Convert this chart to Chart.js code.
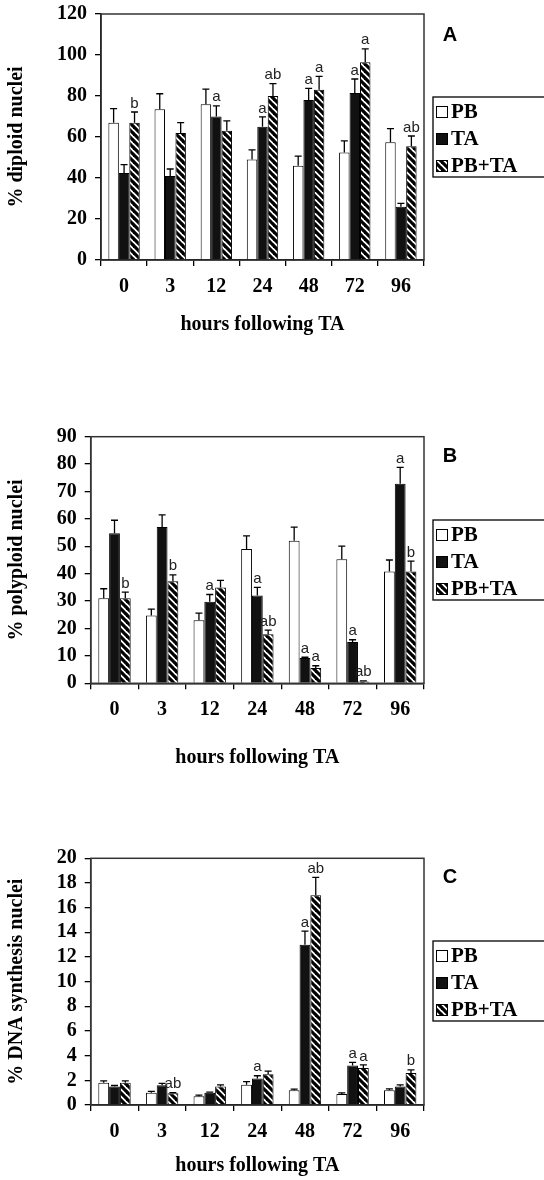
<!DOCTYPE html>
<html>
<head>
<meta charset="utf-8">
<script src="https://cdn.jsdelivr.net/npm/chart.js@4.4.1/dist/chart.umd.min.js"></script>
<style>
  body { margin: 0; background: #fff; }
  #wrap { position: relative; width: 544px; height: 1180px; overflow: hidden; }
  canvas { position: absolute; left: 0; }
</style>
</head>
<body>
<div id="wrap">
  <canvas id="chartA" width="544" height="390" style="top:0px"></canvas>
  <canvas id="chartB" width="544" height="400" style="top:390px"></canvas>
  <canvas id="chartC" width="544" height="390" style="top:790px"></canvas>
</div>
<script>
// categories and series
var hours = ["0", "3", "12", "24", "48", "72", "96"];
var seriesNames = ["PB", "TA", "PB+TA"];

// panel A: % diploid nuclei
var pbA = [67, 73.5, 76, 49, 46, 52.5, 57.5];
var pbErrA = [6.8, 7.6, 7.4, 4.7, 4.7, 5.6, 6.6];
var taA = [42.5, 41, 70, 65, 78, 81.5, 26];
var taErrA = [4, 3.4, 5.2, 4.8, 5.7, 6.8, 1.6];
var ptA = [67, 62, 63, 80, 83, 96.5, 55.5];
var ptErrA = [5.2, 5, 4.9, 6, 6.6, 6.5, 5];
var taMarksA = ["", "", "a", "a", "a", "a", ""];
var ptMarksA = ["b", "", "", "ab", "a", "a", "ab"];

// panel B: % polyploid nuclei
var pbB = [31, 24.7, 23, 49, 52, 45.3, 40.8];
var pbErrB = [3.5, 2.4, 2.6, 4.8, 5, 4.8, 4.2];
var taB = [54.8, 57, 29.8, 32, 9.2, 15.1, 72.8];
var taErrB = [4.7, 4.5, 2.6, 3, 0.3, 0.8, 6];
var ptB = [31, 37.2, 35, 17.9, 5.6, 0.7, 40.8];
var ptErrB = [2.3, 2.4, 2.6, 1.5, 0.8, 0.2, 3.8];
var taMarksB = ["", "", "a", "a", "a", "a", "a"];
var ptMarksB = ["b", "b", "", "ab", "a", "ab", "b"];

// panel C: % DNA synthesis nuclei
var pbC = [1.8, 1.0, 0.7, 1.65, 1.2, 0.9, 1.2];
var pbErrC = [0.15, 0.1, 0.1, 0.25, 0.08, 0.08, 0.1];
var taC = [1.5, 1.6, 1.0, 2.15, 13.0, 3.2, 1.5];
var taErrC = [0.08, 0.15, 0.05, 0.22, 1.1, 0.25, 0.13];
var ptC = [1.8, 0.95, 1.5, 2.5, 17.0, 3.0, 2.6];
var ptErrC = [0.15, 0.06, 0.13, 0.25, 1.45, 0.25, 0.25];
var taMarksC = ["", "", "", "a", "a", "a", ""];
var ptMarksC = ["", "ab", "", "", "ab", "a", "b"];

var SERIF = "'Liberation Serif', 'Times New Roman', serif";
var SANS = "'Liberation Sans', Arial, sans-serif";

function makeStripes(dark) {
    var n = 7;
    var c = document.createElement("canvas");
    c.width = n; c.height = n;
    var g = c.getContext("2d");
    g.fillStyle = "#fff";
    g.fillRect(0, 0, n, n);
    g.strokeStyle = dark;
    g.lineWidth = 3.2;
    for (var k = -1; k <= 1; k++) {
        g.beginPath();
        g.moveTo(k * n - 1, -1);
        g.lineTo(k * n + n + 1, n + 1);
        g.stroke();
    }
    return g.createPattern(c, "repeat");
}
var stripes = makeStripes("#000");

// error bars with cap, plus significance letters
var errorBars = {
    id: "errorBars",
    afterDatasetsDraw: function(chart) {
        var ctx = chart.ctx;
        var yScale = chart.scales.y;
        ctx.save();
        chart.data.datasets.forEach(function(ds, i) {
            var meta = chart.getDatasetMeta(i);
            meta.data.forEach(function(bar, j) {
                var top = yScale.getPixelForValue(ds.data[j] + ds.errors[j]);
                ctx.strokeStyle = "#000";
                ctx.lineWidth = 1.3;
                ctx.beginPath();
                ctx.moveTo(bar.x, bar.y);
                ctx.lineTo(bar.x, top);
                ctx.moveTo(bar.x - 3.5, top);
                ctx.lineTo(bar.x + 3.5, top);
                ctx.stroke();
                var m = ds.marks[j];
                if (m) {
                    ctx.fillStyle = "#222";
                    ctx.font = "15px " + SANS;
                    ctx.textAlign = "center";
                    ctx.textBaseline = "bottom";
                    ctx.fillText(m, bar.x, top - 1);
                }
            });
        });
        ctx.restore();
    }
};

// frame around plot, panel letter and boxed legend
var decor = {
    id: "decor",
    afterDraw: function(chart) {
        var ctx = chart.ctx;
        var a = chart.chartArea;
        var o = chart.options.plugins.decor;
        ctx.save();
        ctx.strokeStyle = "#333";
        ctx.lineWidth = 1.5;
        ctx.strokeRect(a.left, a.top, a.right - a.left, a.bottom - a.top);

        ctx.fillStyle = "#000";
        ctx.font = "bold 20px " + SANS;
        ctx.textAlign = "center";
        ctx.textBaseline = "middle";
        ctx.fillText(o.letter, 450, o.letterY);

        var bx = 433, by = o.legendY;
        ctx.lineWidth = 1.3;
        ctx.strokeStyle = "#000";
        ctx.strokeRect(bx, by, 120, 80);
        ctx.font = "bold 21px " + SERIF;
        ctx.textAlign = "left";
        chart.data.datasets.forEach(function(ds, i) {
            var cy = by + 15 + i * 27;
            ctx.fillStyle = ds.backgroundColor;
            ctx.fillRect(436, cy - 6, 12, 12);
            ctx.strokeStyle = "#000";
            ctx.lineWidth = 1;
            ctx.strokeRect(436.5, cy - 5.5, 11, 11);
            ctx.fillStyle = "#000";
            ctx.fillText(ds.label, 451, cy + 1);
        });
        ctx.restore();
    }
};

function makePanel(id, p) {
    var canvas = document.getElementById(id);
    var H = canvas.height;
    var tickFont = { family: SERIF, size: 20, weight: "bold" };
    var titleFont = { family: SERIF, size: 20, weight: "bold" };
    return new Chart(canvas, {
        type: "bar",
        data: {
            labels: hours,
            datasets: [
                { label: seriesNames[0], data: p.pb, errors: p.pbErr, marks: ["", "", "", "", "", "", ""],
                  backgroundColor: "#fff", borderColor: "#000", borderWidth: 1 },
                { label: seriesNames[1], data: p.ta, errors: p.taErr, marks: p.taMarks,
                  backgroundColor: "#111", borderColor: "#000", borderWidth: 1 },
                { label: seriesNames[2], data: p.pt, errors: p.ptErr, marks: p.ptMarks,
                  backgroundColor: stripes, borderColor: "#000", borderWidth: 1 }
            ]
        },
        options: {
            responsive: false,
            animation: false,
            devicePixelRatio: 1,
            datasets: { bar: { categoryPercentage: 0.68, barPercentage: 1.0 } },
            layout: { padding: { top: p.top, right: 544 - 424, left: 0, bottom: 0 } },
            plugins: {
                legend: { display: false },
                tooltip: { enabled: false },
                decor: { letter: p.letter, letterY: p.letterY, legendY: p.legendY }
            },
            scales: {
                x: {
                    grid: { drawOnChartArea: false, drawTicks: true, tickLength: 6, color: "#000", lineWidth: 1.3, offset: true },
                    border: { color: "#000", width: 1.5 },
                    ticks: { font: tickFont, color: "#000", padding: 9, maxRotation: 0 },
                    title: { display: true, text: "hours following TA", font: titleFont, color: "#000",
                             padding: { top: 0, bottom: H - p.titleY - 12 } },
                    afterFit: function(s) { s.height = H - p.bottom; s.paddingLeft = 0; s.paddingRight = 0; }
                },
                y: {
                    min: 0, max: p.max,
                    grid: { drawOnChartArea: false, drawTicks: true, tickLength: 6, color: "#000", lineWidth: 1.3 },
                    border: { color: "#000", width: 1.5 },
                    ticks: { stepSize: p.step, autoSkip: false, font: tickFont, color: "#000", padding: 8 },
                    title: { display: true, text: p.yTitle, font: titleFont, color: "#000",
                             padding: { top: 5, bottom: 0 } },
                    afterFit: function(s) { s.width = p.left; s.paddingTop = 0; s.paddingBottom = 0; }
                }
            }
        },
        plugins: [errorBars, decor]
    });
}

makePanel("chartA", {
    pb: pbA, pbErr: pbErrA, ta: taA, taErr: taErrA, pt: ptA, ptErr: ptErrA,
    taMarks: taMarksA, ptMarks: ptMarksA,
    max: 120, step: 20, yTitle: "% diploid nuclei",
    top: 14, bottom: 260, left: 101, titleY: 325,
    letter: "A", letterY: 35, legendY: 97
});
makePanel("chartB", {
    pb: pbB, pbErr: pbErrB, ta: taB, taErr: taErrB, pt: ptB, ptErr: ptErrB,
    taMarks: taMarksB, ptMarks: ptMarksB,
    max: 90, step: 10, yTitle: "% polyploid nuclei",
    top: 46.7, bottom: 293.3, left: 90.7, titleY: 368,
    letter: "B", letterY: 66, legendY: 130
});
makePanel("chartC", {
    pb: pbC, pbErr: pbErrC, ta: taC, taErr: taErrC, pt: ptC, ptErr: ptErrC,
    taMarks: taMarksC, ptMarks: ptMarksC,
    max: 20, step: 2, yTitle: "% DNA synthesis nuclei",
    top: 68.3, bottom: 315, left: 90.7, titleY: 376,
    letter: "C", letterY: 87, legendY: 151
});
</script>
</body>
</html>
